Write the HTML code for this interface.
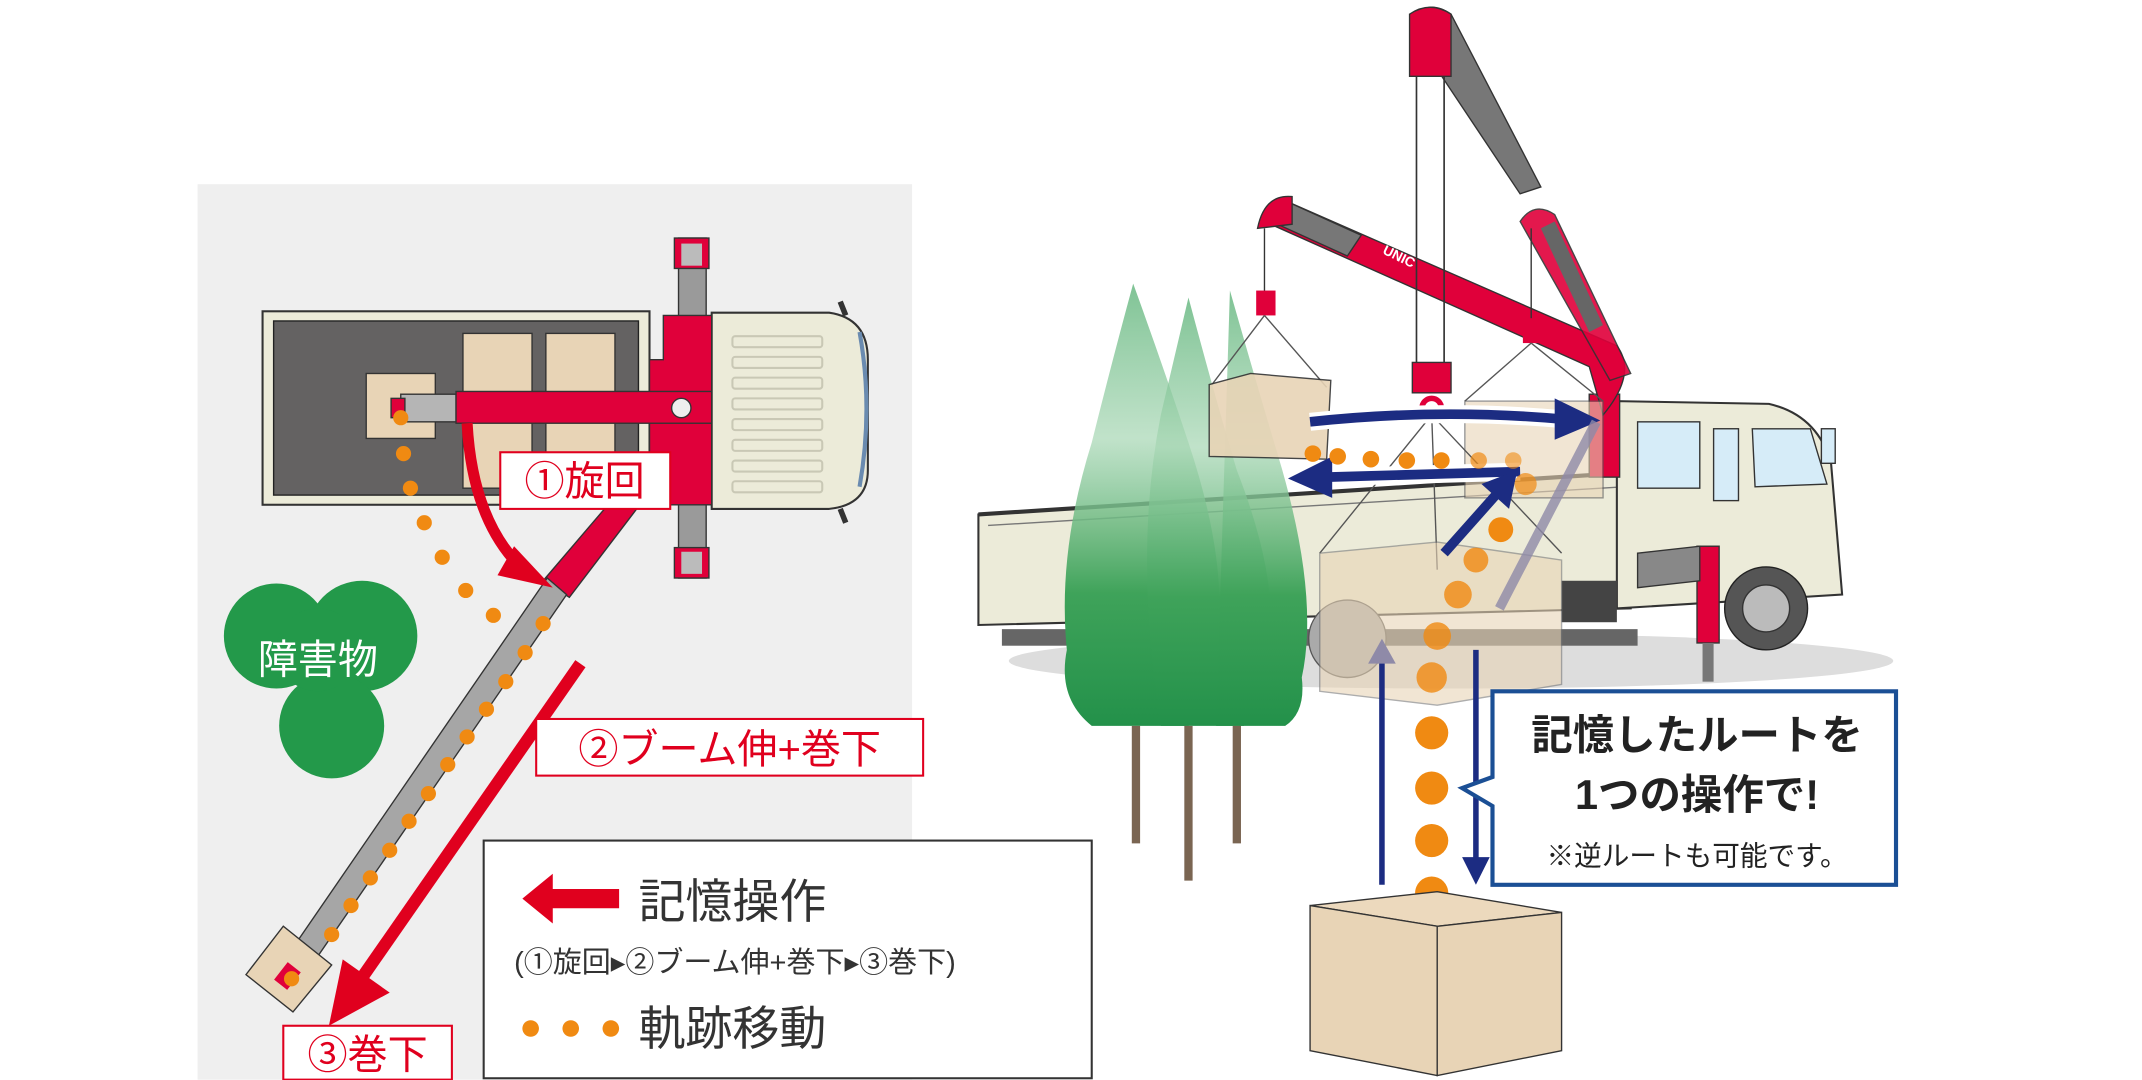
<!DOCTYPE html>
<html><head><meta charset="utf-8"><style>
html,body{margin:0;padding:0;background:#fff;}
svg{display:block;}
text{font-family:"Liberation Sans","Noto Sans CJK JP",sans-serif;}
</style></head><body>
<svg width="2142" height="1080" viewBox="0 0 1550 781" xmlns="http://www.w3.org/2000/svg">
<defs>
<linearGradient id="tree" x1="0" y1="0" x2="0" y2="1">
<stop offset="0" stop-color="#5fb47a" stop-opacity="0.8"/>
<stop offset="0.35" stop-color="#a6d6b3" stop-opacity="0.7"/>
<stop offset="0.7" stop-color="#3fa35a"/>
<stop offset="1" stop-color="#23914a"/>
</linearGradient>
</defs>
<rect width="1550" height="781" fill="#fff"/>
<!-- LEFT PANEL -->
<rect x="143" y="133" width="517" height="648" fill="#efefef"/>
<rect x="190" y="225" width="280" height="140" fill="#ecebd9" stroke="#333" stroke-width="1.5"/>
<rect x="198" y="232" width="264" height="126" fill="#646262" stroke="#222"/>
<rect x="335" y="241" width="50" height="112" fill="#e8d4b6" stroke="#333"/>
<rect x="395" y="241" width="50" height="112" fill="#e8d4b6" stroke="#333"/>
<rect x="265" y="270" width="50" height="47" fill="#e8d4b6" stroke="#333"/>
<path d="M515 226 L600 226 Q628 230 628 260 L628 340 Q628 365 600 368 L515 368 Z" fill="#ecebd9" stroke="#333" stroke-width="1.5"/>
<path d="M622 240 Q632 295 622 352" fill="none" stroke="#6a8bb0" stroke-width="3"/>
<g fill="none" stroke="#c9c8b5" stroke-width="1.5">
<rect x="530" y="243" width="65" height="8" rx="2"/><rect x="530" y="258" width="65" height="8" rx="2"/>
<rect x="530" y="273" width="65" height="8" rx="2"/><rect x="530" y="288" width="65" height="8" rx="2"/>
<rect x="530" y="303" width="65" height="8" rx="2"/><rect x="530" y="318" width="65" height="8" rx="2"/>
<rect x="530" y="333" width="65" height="8" rx="2"/><rect x="530" y="348" width="65" height="8" rx="2"/>
</g>
<path d="M608 218 L612 228 M608 368 L612 378" stroke="#333" stroke-width="4"/>
<rect x="491" y="172" width="20" height="246" fill="#9a9a9a" stroke="#333"/>
<rect x="488" y="172" width="25" height="22" fill="#e0003a" stroke="#333"/>
<rect x="488" y="396" width="25" height="22" fill="#e0003a" stroke="#333"/>
<rect x="493" y="176" width="15" height="16" fill="#bbb"/>
<rect x="493" y="399" width="15" height="16" fill="#bbb"/>
<path d="M480 228 L515 228 L515 365 L480 365 L480 340 L470 340 L470 260 L480 260 Z" fill="#e0003a" stroke="#333"/>
<rect x="290" y="285" width="40" height="20" fill="#b5b5b5" stroke="#333"/>
<rect x="283" y="288" width="10" height="14" fill="#e0003a" stroke="#333"/>
<rect x="330" y="283" width="185" height="23" fill="#e0003a" stroke="#333"/>
<ellipse cx="493" cy="295" rx="7" ry="7" fill="#eee" stroke="#333"/>
<path d="M440 365 L463 365 L412 432 L393 420 Z" fill="#e0003a" stroke="#333"/>
<path d="M396 418 L410 430 L216 712 L202 700 Z" fill="#a6a6a6" stroke="#333"/>
<path d="M178 705 L205 670 L240 698 L212 732 Z" fill="#e8d4b6" stroke="#333"/>
<rect x="200" y="700" width="16" height="12" fill="#e0003a" transform="rotate(-52 208 706)"/>
<g fill="#f08a12">
<circle cx="290" cy="302" r="5.5"/><circle cx="292" cy="328" r="5.5"/><circle cx="297" cy="353" r="5.5"/>
<circle cx="307" cy="378" r="5.5"/><circle cx="320" cy="403" r="5.5"/><circle cx="337" cy="427" r="5.5"/>
<circle cx="357" cy="445" r="5.5"/>
<circle cx="393" cy="451" r="5.5"/><circle cx="380" cy="472" r="5.5"/><circle cx="366" cy="493" r="5.5"/>
<circle cx="352" cy="513" r="5.5"/><circle cx="338" cy="533" r="5.5"/><circle cx="324" cy="553" r="5.5"/>
<circle cx="310" cy="574" r="5.5"/><circle cx="296" cy="594" r="5.5"/><circle cx="282" cy="615" r="5.5"/>
<circle cx="268" cy="635" r="5.5"/><circle cx="254" cy="655" r="5.5"/><circle cx="240" cy="676" r="5.5"/>
<circle cx="211" cy="708" r="5.5"/>
</g>
<path d="M338 306 Q342 380 382 415" fill="none" stroke="#e0001e" stroke-width="8"/>
<path d="M372 395 L400 425 L360 416 Z" fill="#e0001e"/>
<line x1="420" y1="480" x2="260" y2="710" stroke="#e0001e" stroke-width="9"/>
<path d="M238 742 L248 694 L282 718 Z" fill="#e0001e"/>
<g fill="#23994a">
<circle cx="200" cy="460" r="38"/><circle cx="262" cy="460" r="40"/><circle cx="240" cy="525" r="38"/>
<circle cx="230" cy="470" r="30"/>
</g>
<text x="230" y="487" font-size="29" fill="#fff" text-anchor="middle">障害物</text>
<rect x="362" y="327" width="123" height="41" fill="#fff" stroke="#e0001e" stroke-width="1.5"/>
<text x="423" y="358" font-size="29" fill="#e0001e" text-anchor="middle">①旋回</text>
<rect x="388" y="520" width="280" height="41" fill="#fff" stroke="#e0001e" stroke-width="1.5"/>
<text x="528" y="552" font-size="29" fill="#e0001e" text-anchor="middle">②ブーム伸+巻下</text>
<rect x="205" y="742" width="122" height="39" fill="#fff" stroke="#e0001e" stroke-width="1.5"/>
<text x="266" y="773" font-size="29" fill="#e0001e" text-anchor="middle">③巻下</text>
<rect x="350" y="608" width="440" height="172" fill="#fff" stroke="#333" stroke-width="1.5"/>
<path d="M378 650 L400 632 L400 643 L448 643 L448 657 L400 657 L400 668 Z" fill="#e0001e"/>
<text x="462" y="664" font-size="34" fill="#333">記憶操作</text>
<text x="372" y="703" font-size="21" fill="#333">(①旋回▸②ブーム伸+巻下▸③巻下)</text>
<g fill="#f08a12"><circle cx="384" cy="744" r="6"/><circle cx="413" cy="744" r="6"/><circle cx="442" cy="744" r="6"/></g>
<text x="462" y="756" font-size="34" fill="#333">軌跡移動</text>

<!-- RIGHT -->
<ellipse cx="1050" cy="478" rx="320" ry="20" fill="#ddd"/>
<path d="M708 372 L1175 342 L1180 440 L708 452 Z" fill="#ecebd9" stroke="#333" stroke-width="1.5"/>
<path d="M708 372 L1175 342" stroke="#333" stroke-width="3"/>
<path d="M715 380 L1175 352" stroke="#777" stroke-width="1"/>
<rect x="725" y="455" width="460" height="12" fill="#666"/>
<path d="M1170 290 L1280 292 Q1315 300 1325 335 L1333 430 L1170 440 Z" fill="#ecebd9" stroke="#333" stroke-width="1.5"/>
<rect x="1185" y="305" width="45" height="48" fill="#d6ecf8" stroke="#333"/>
<rect x="1240" y="310" width="18" height="52" fill="#d6ecf8" stroke="#333"/>
<path d="M1268 310 L1310 310 L1322 350 L1270 352 Z" fill="#d6ecf8" stroke="#333"/>
<rect x="1318" y="310" width="10" height="25" fill="#d6ecf8" stroke="#333"/>
<circle cx="1278" cy="440" r="30" fill="#555" stroke="#222"/>
<circle cx="1278" cy="440" r="17" fill="#bbb" stroke="#333"/>
<circle cx="975" cy="462" r="28" fill="#aaa" stroke="#555"/>
<rect x="1130" y="420" width="40" height="30" fill="#444"/>
<rect x="1228" y="395" width="16" height="70" fill="#e0003a" stroke="#333"/>
<rect x="1232" y="465" width="8" height="28" fill="#777"/>
<path d="M1185 400 L1230 395 L1230 420 L1185 425 Z" fill="#888" stroke="#333"/>
<rect x="1150" y="285" width="22" height="60" fill="#e0003a" stroke="#333"/>
<path d="M1160 300 Q1185 270 1170 250 L930 145 L915 160 L1150 265 Z" fill="#e0003a" stroke="#333"/>
<path d="M930 145 L985 170 L975 185 L920 160 Z" fill="#777" stroke="#333"/>
<path d="M910 165 Q915 140 935 142 L935 162 Z" fill="#e0003a" stroke="#333"/>
<line x1="915" y1="165" x2="915" y2="215" stroke="#333"/>
<rect x="909" y="210" width="14" height="18" fill="#e0003a"/>
<path d="M1100 160 Q1110 145 1125 155 L1180 270 L1165 275 Z" fill="#e0003a" stroke="#333" opacity="0.9"/>
<path d="M1115 165 L1150 240 L1160 235 L1125 160 Z" fill="#666"/>
<line x1="1108" y1="165" x2="1108" y2="235" stroke="#333"/>
<rect x="1102" y="230" width="14" height="18" fill="#e0003a"/>
<path d="M1025 10 Q1035 0 1050 10 L1115 135 L1100 140 L1040 50 Z" fill="#777" stroke="#333"/>
<path d="M1020 55 L1020 10 Q1035 0 1050 10 L1050 55 Z" fill="#e0003a" stroke="#333"/>
<line x1="1025" y1="55" x2="1025" y2="265" stroke="#333" stroke-width="1.2"/>
<line x1="1045" y1="55" x2="1045" y2="265" stroke="#333" stroke-width="1.2"/>
<rect x="1022" y="262" width="28" height="22" fill="#e0003a" stroke="#333"/>
<circle cx="1036" cy="295" r="7" fill="none" stroke="#e0003a" stroke-width="4"/>
<text x="1000" y="183" font-size="10" fill="#fff" font-weight="bold" transform="rotate(26 1000 183)">UNIC</text>
<!-- trees -->
<g fill="url(#tree)">
<path d="M820 205 Q840 260 860 320 Q890 410 880 470 Q890 505 860 525 L790 525 Q765 505 772 470 Q765 400 790 320 Q805 260 820 205 Z"/>
<path d="M860 215 Q880 290 895 340 Q930 430 915 480 Q925 510 900 525 L840 525 Q820 400 840 300 Z"/>
<path d="M890 210 Q910 280 925 330 Q955 430 942 490 Q945 515 930 525 L880 525 Z"/>
</g>
<g stroke="#7a6552" stroke-width="6">
<line x1="822" y1="525" x2="822" y2="610"/><line x1="860" y1="525" x2="860" y2="637"/><line x1="895" y1="525" x2="895" y2="610"/>
</g>
<line x1="915" y1="228" x2="877" y2="278" stroke="#555"/><line x1="915" y1="228" x2="960" y2="280" stroke="#555"/>
<path d="M875 278 L905 270 L963 275 L960 332 L875 330 Z" fill="#e8d4b6" stroke="#333" opacity="0.9"/>
<line x1="1108" y1="248" x2="1060" y2="290" stroke="#555"/><line x1="1108" y1="248" x2="1160" y2="290" stroke="#555"/>
<rect x="1060" y="290" width="100" height="70" fill="#e8d4b6" stroke="#555" opacity="0.6"/>
<line x1="1036" y1="300" x2="955" y2="400" stroke="#555"/><line x1="1036" y1="300" x2="1130" y2="400" stroke="#555"/><line x1="1036" y1="300" x2="1040" y2="412" stroke="#555"/>
<path d="M955 400 L1040 392 L1130 405 L1130 495 L1040 510 L955 500 Z" fill="#e8d4b6" stroke="#777" opacity="0.6"/>
<path d="M948 305 Q1040 295 1130 303" fill="none" stroke="#fff" stroke-width="13"/>
<path d="M948 305 Q1040 295 1130 303" fill="none" stroke="#1c2c82" stroke-width="7"/>
<path d="M1125 288 L1158 304 L1125 318 Z" fill="#1c2c82"/>
<path d="M1100 341 Q1020 343 960 345" fill="none" stroke="#fff" stroke-width="13"/>
<path d="M1100 341 Q1020 343 960 345" fill="none" stroke="#1c2c82" stroke-width="7"/>
<path d="M964 330 L932 346 L964 360 Z" fill="#1c2c82"/>
<path d="M1045 400 L1085 355" stroke="#1c2c82" stroke-width="7"/>
<path d="M1072 350 L1098 340 L1092 368 Z" fill="#1c2c82"/>
<path d="M1155 305 L1085 440" stroke="#8f8aa8" stroke-width="7" opacity="0.8"/>
<path d="M1000 470 L1000 640" stroke="#1c2c82" stroke-width="4"/>
<path d="M990 480 L1000 462 L1010 480 Z" fill="#8f8aa8"/>
<path d="M1068 470 L1068 625" stroke="#1c2c82" stroke-width="4"/>
<path d="M1058 620 L1068 640 L1078 620 Z" fill="#1c2c82"/>
<g fill="#f08a12">
<circle cx="950" cy="328" r="6"/><circle cx="968" cy="330" r="6"/><circle cx="992" cy="332" r="6"/><circle cx="1018" cy="333" r="6"/><circle cx="1043" cy="333" r="6"/><circle cx="1070" cy="333" r="6" opacity="0.7"/><circle cx="1095" cy="333" r="6" opacity="0.6"/>
<circle cx="1104" cy="350" r="8" opacity="0.7"/><circle cx="1086" cy="383" r="9"/><circle cx="1068" cy="405" r="9" opacity="0.8"/>
<circle cx="1055" cy="430" r="10" opacity="0.8"/><circle cx="1040" cy="460" r="10" opacity="0.8"/><circle cx="1036" cy="490" r="11" opacity="0.8"/>
<circle cx="1036" cy="530" r="12"/><circle cx="1036" cy="570" r="12"/><circle cx="1036" cy="608" r="12"/><circle cx="1036" cy="646" r="12"/>
</g>
<path d="M948 655 L1040 645 L1130 660 L1040 670 Z" fill="#ecd9bd" stroke="#333"/>
<path d="M948 655 L1040 670 L1040 778 L948 760 Z" fill="#e8d4b6" stroke="#333"/>
<path d="M1040 670 L1130 660 L1130 760 L1040 778 Z" fill="#e8d4b6" stroke="#333"/>
<path d="M1080 500 L1372 500 L1372 640 L1080 640 L1080 583 L1058 570 L1080 562 Z" fill="#fff" stroke="#1b4f95" stroke-width="3"/>
<text x="1228" y="542" font-size="30" font-weight="bold" fill="#222" text-anchor="middle">記憶したルートを</text>
<text x="1228" y="585" font-size="30" font-weight="bold" fill="#222" text-anchor="middle">1つの操作で!</text>
<text x="1228" y="626" font-size="20" fill="#222" text-anchor="middle">※逆ルートも可能です。</text>
</svg>
</body></html>
